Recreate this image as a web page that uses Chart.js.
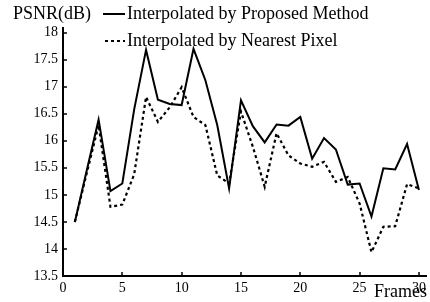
<!DOCTYPE html>
<html>
<head>
<meta charset="utf-8">
<script src="https://cdn.jsdelivr.net/npm/chart.js@4"></script>
<style>
  html, body { margin: 0; padding: 0; background: #fff; }
  #wrap { width: 430px; height: 302px; }
</style>
</head>
<body>
<div id="wrap"><canvas id="psnrChart" width="430" height="302"></canvas></div>
<script>
// ---------- data ----------
const frames = [1, 2, 3, 4, 5, 6, 7, 8, 9, 10, 11, 12, 13, 14, 15,
                16, 17, 18, 19, 20, 21, 22, 23, 24, 25, 26, 27, 28, 29, 30];

const proposed = [14.5, 15.45, 16.39, 15.07, 15.21, 16.58, 17.68, 16.76, 16.68, 16.66,
                  17.70, 17.12, 16.29, 15.12, 16.75, 16.27, 15.97, 16.30, 16.28, 16.44,
                  15.67, 16.05, 15.84, 15.19, 15.21, 14.60, 15.49, 15.47, 15.94, 15.09];

const nearest = [14.5, 15.4, 16.29, 14.78, 14.82, 15.38, 16.81, 16.35, 16.62, 16.99,
                 16.44, 16.29, 15.36, 15.21, 16.54, 15.89, 15.15, 16.14, 15.73, 15.58,
                 15.52, 15.61, 15.24, 15.33, 14.84, 13.94, 14.41, 14.42, 15.20, 15.12];

const xTicks = [0, 5, 10, 15, 20, 25, 30];
const yTicks = [13.5, 14, 14.5, 15, 15.5, 16, 16.5, 17, 17.5, 18];

const seriesNames = ['Interpolated by Proposed Method', 'Interpolated by Nearest Pixel'];
const yTitle = 'PSNR(dB)';
const xTitle = 'Frames';

const serif = '"Liberation Serif", "Times New Roman", serif';

// ---------- inward tick marks, legend, axis titles ----------
const decorPlugin = {
  id: 'decor',
  afterDraw(chart) {
    const ctx = chart.ctx;
    const xs = chart.scales.x, ys = chart.scales.y;
    const area = chart.chartArea;
    ctx.save();
    ctx.strokeStyle = '#000';
    ctx.lineWidth = 1.5;
    ctx.beginPath();
    xs.ticks.forEach(t => {
      const px = Math.round(xs.getPixelForValue(t.value));
      ctx.moveTo(px, area.bottom);
      ctx.lineTo(px, area.bottom - 4);
    });
    ys.ticks.forEach(t => {
      const py = Math.round(ys.getPixelForValue(t.value));
      ctx.moveTo(area.left, py);
      ctx.lineTo(area.left + 4, py);
    });
    ctx.stroke();

    ctx.fillStyle = '#000';
    ctx.font = '18px ' + serif;
    ctx.textBaseline = 'middle';
    ctx.textAlign = 'left';
    ctx.fillText(yTitle, 13, 14);

    // legend
    const rows = [{ y: 14, x0: 103 }, { y: 41, x0: 105 }];
    chart.data.datasets.forEach((ds, i) => {
      const r = rows[i];
      ctx.lineWidth = 2;
      ctx.setLineDash(ds.borderDash || []);
      ctx.beginPath();
      ctx.moveTo(r.x0, r.y);
      ctx.lineTo(125, r.y);
      ctx.stroke();
      ctx.setLineDash([]);
      ctx.fillText(ds.label, 127, r.y);
    });

    ctx.textAlign = 'right';
    ctx.fillText(xTitle, 427, 292);
    ctx.restore();
  }
};

const ctx = document.getElementById('psnrChart').getContext('2d');
new Chart(ctx, {
  type: 'line',
  data: {
    datasets: [
      {
        label: seriesNames[0],
        data: frames.map((f, i) => ({ x: f, y: proposed[i] })),
        borderColor: '#000',
        borderWidth: 2,
        pointRadius: 0,
        tension: 0,
        fill: false
      },
      {
        label: seriesNames[1],
        data: frames.map((f, i) => ({ x: f, y: nearest[i] })),
        borderColor: '#000',
        borderWidth: 2.2,
        borderDash: [3, 3],
        pointRadius: 0,
        tension: 0,
        fill: false
      }
    ]
  },
  options: {
    responsive: false,
    animation: false,
    devicePixelRatio: 1,
    layout: { padding: { top: 28, right: 3, left: 0, bottom: 0 } },
    plugins: { legend: { display: false }, tooltip: { enabled: false }, title: { display: false } },
    scales: {
      x: {
        type: 'linear',
        min: 0,
        max: 30.65,
        afterBuildTicks: s => { s.ticks = xTicks.map(v => ({ value: v })); },
        afterFit: s => { s.height = 26; },
        grid: { display: false, drawTicks: false },
        border: { display: true, color: '#000', width: 2 },
        ticks: {
          color: '#000', font: { family: serif, size: 14 }, padding: 4,
          maxRotation: 0, autoSkip: false, callback: v => String(v)
        }
      },
      y: {
        min: 13.5,
        max: 18.085,
        afterBuildTicks: s => { s.ticks = yTicks.map(v => ({ value: v })); },
        afterFit: s => { s.width = 63; },
        grid: { display: false, drawTicks: false },
        border: { display: true, color: '#000', width: 2 },
        ticks: { color: '#000', font: { family: serif, size: 14 }, padding: 5, callback: v => String(v) }
      }
    }
  },
  plugins: [decorPlugin]
});
</script>
</body>
</html>
